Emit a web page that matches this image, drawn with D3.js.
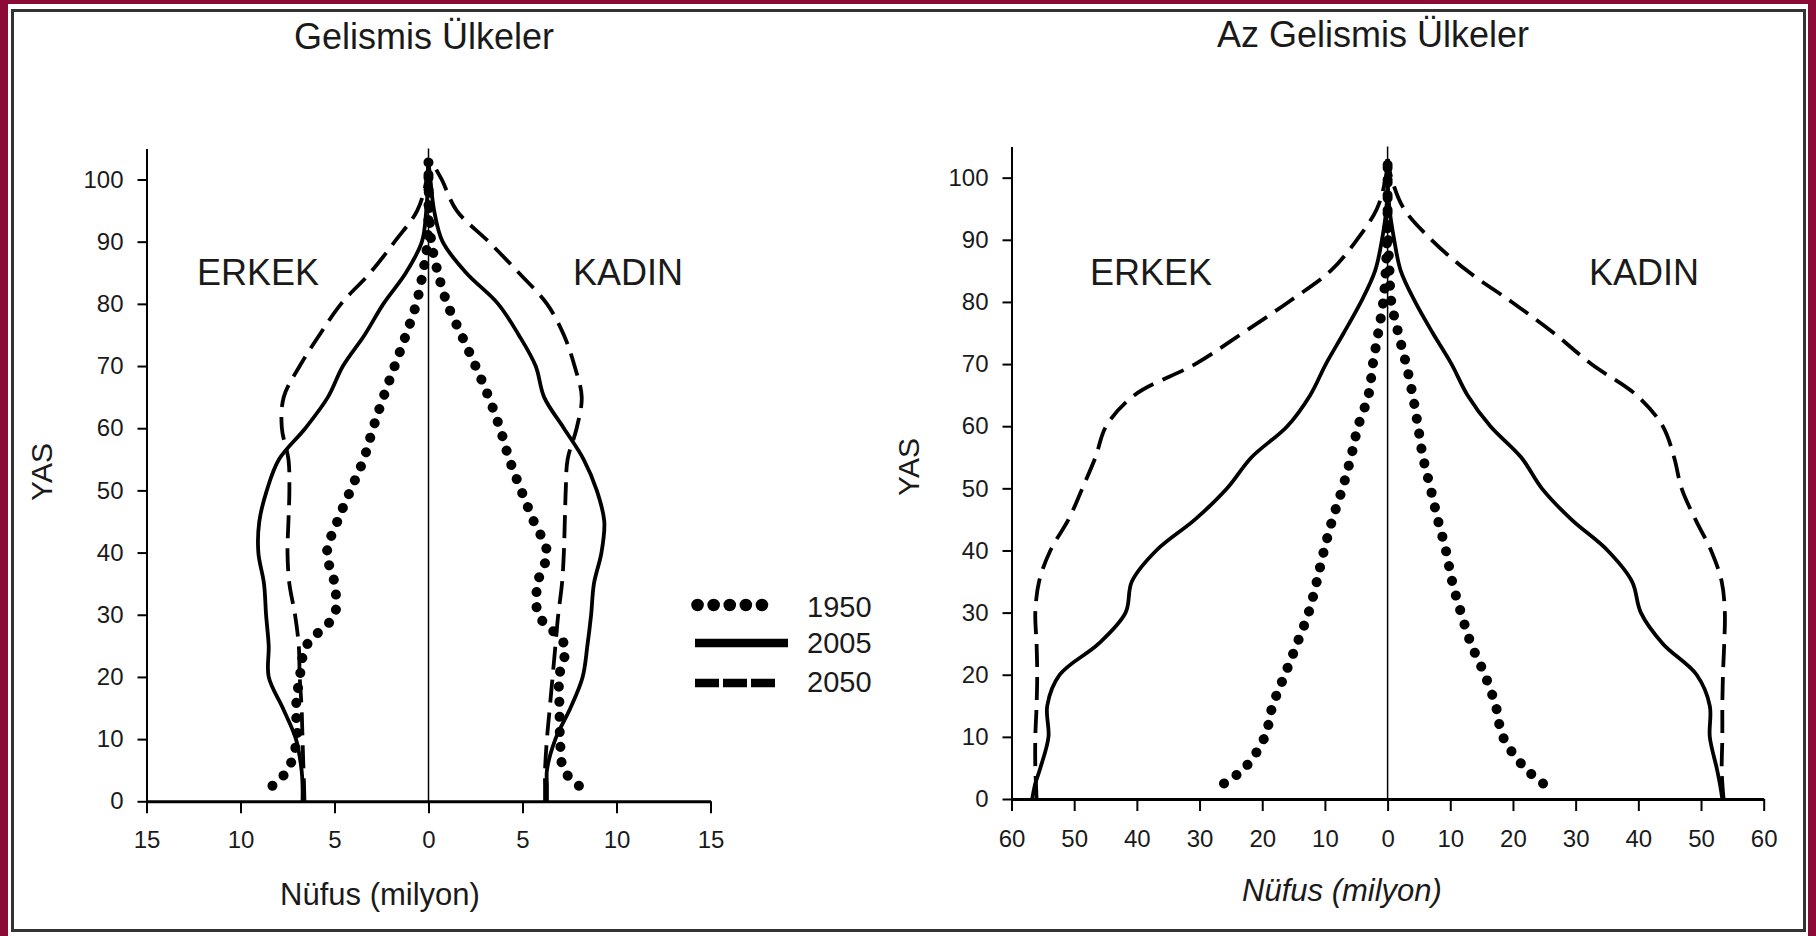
<!DOCTYPE html>
<html lang="tr">
<head>
    <meta charset="utf-8">
    <title>Nüfus piramitleri: Gelismis ve Az Gelismis Ülkeler</title>
    <script type="text/javascript" src="https://cdn.jsdelivr.net/npm/d3@7"></script>
    <style type="text/css">
        body { margin: 0; background: #fff; }
        svg text { font-family: "Liberation Sans", Arial, sans-serif; fill: #1a1a1a; }
    </style>
</head>
<body>
    <script type="text/javascript">

        //Width and height
        var w = 1816;
        var h = 936;

        //Age points (YAS), shared by every series
        var ages = [0, 2.5, 5, 10, 15, 20, 25, 30, 35, 40, 45, 50, 55, 60, 65, 70, 75, 80, 85, 90, 95, 100, 103];

        //Gelismis Ülkeler, population in millions
        var devMale1950 = [null, 8.3, 7.5, 7.0, 7.05, 6.85, 6.5, 5.0, 5.0, 5.4, 4.85, 4.15, 3.45, 2.95, 2.4, 1.8, 1.2, 0.65, 0.3, 0.05, 0, 0, 0];
        var devMale2005 = [6.7, 6.7, 6.75, 7.05, 7.75, 8.5, 8.5, 8.64, 8.75, 9.05, 9.0, 8.6, 7.95, 6.55, 5.35, 4.55, 3.4, 2.4, 1.2, 0.35, 0.12, 0.02, 0];
        var devMale2050 = [6.6, 6.62, 6.65, 6.7, 6.75, 6.85, 6.9, 7.1, 7.4, 7.5, 7.45, 7.4, 7.45, 7.8, 7.7, 6.85, 5.8, 4.65, 3.1, 1.8, 0.6, 0.1, 0];
        var devFemale1950 = [null, 8.0, 7.2, 7.0, 6.97, 6.95, 7.25, 5.85, 5.8, 6.3, 5.6, 4.93, 4.3, 3.8, 3.2, 2.5, 1.75, 1.0, 0.5, 0.15, 0.05, 0, 0];
        var devFemale2005 = [6.3, 6.3, 6.3, 6.75, 7.55, 8.2, 8.45, 8.65, 8.8, 9.2, 9.35, 8.95, 8.25, 7.2, 6.15, 5.7, 4.8, 3.7, 2.0, 0.75, 0.3, 0.1, 0];
        var devFemale2050 = [6.2, 6.2, 6.2, 6.3, 6.45, 6.6, 6.75, 6.9, 7.1, 7.2, 7.25, 7.3, 7.4, 7.88, 8.15, 7.77, 7.2, 6.3, 4.8, 3.2, 1.5, 0.7, 0.15];

        //Az Gelismis Ülkeler, population in millions
        var lessMale1950 = [null, 26.1, 22.8, 19.6, 18.35, 16.4, 14.45, 12.6, 11.3, 10.15, 8.8, 7.2, 5.85, 4.7, 3.05, 2.35, 1.5, 0.7, 0.3, 0.1, 0, 0, 0];
        var lessMale2005 = [56.7, 56.2, 55.4, 54.1, 54.3, 52.3, 46.1, 41.8, 40.8, 36.9, 30.7, 25.6, 21.7, 16.0, 12.35, 9.85, 7.0, 4.25, 2.0, 0.9, 0.2, 0, 0];
        var lessMale2050 = [56.0, 56.1, 56.2, 56.2, 56.0, 55.9, 56.0, 56.2, 55.6, 53.8, 50.9, 48.7, 46.6, 44.9, 40.4, 30.7, 23.1, 15.8, 9.1, 4.9, 1.7, 0.3, 0];
        var lessFemale1950 = [null, 24.8, 21.9, 18.4, 17.25, 15.5, 13.3, 11.7, 10.3, 9.3, 8.0, 6.85, 5.65, 4.85, 4.0, 2.95, 1.7, 0.6, 0.3, 0.1, 0, 0, 0];
        var lessFemale2005 = [53.4, 53.0, 52.5, 51.4, 51.4, 49.3, 43.9, 40.4, 39.0, 35.1, 29.3, 24.6, 21.3, 16.4, 12.75, 10.2, 7.2, 4.4, 2.1, 1.05, 0.3, 0, 0];
        var lessFemale2050 = [53.6, 53.4, 53.3, 53.4, 53.4, 53.5, 53.7, 53.8, 53.3, 51.6, 49.1, 46.9, 45.7, 43.9, 39.7, 32.5, 26.5, 19.8, 12.7, 7.0, 2.6, 0.6, 0];

        //Legend years and tick values
        var years = ["1950", "2005", "2050"];
        var yTicks = [0, 10, 20, 30, 40, 50, 60, 70, 80, 90, 100];
        var devXTicks = [-15, -10, -5, 0, 5, 10, 15];
        var lessXTicks = [-60, -50, -40, -30, -20, -10, 0, 10, 20, 30, 40, 50, 60];

        //Line style per year
        var styles = {
            "1950": { width: 10, dash: "0.1 15", cap: "round" },
            "2005": { width: 3.8, dash: null, cap: "butt" },
            "2050": { width: 3.8, dash: "23 10", cap: "butt" }
        };

        //Create SVG element
        var svg = d3.select("body")
            .append("svg")
            .attr("width", w)
            .attr("height", h);

        //Frame
        svg.append("rect").attr("width", w).attr("height", h).attr("fill", "#8c0a36");
        svg.append("rect").attr("x", 8).attr("y", 4).attr("width", 1800).attr("height", 932).attr("fill", "#fff");
        svg.append("rect")
            .attr("x", 12.5).attr("y", 10.5)
            .attr("width", 1792).attr("height", 920)
            .attr("fill", "none")
            .attr("stroke", "#333")
            .attr("stroke-width", 3);

        function drawPanel(p) {
            var x = d3.scaleLinear().domain(p.xDomain).range(p.xRange);
            var y = d3.scaleLinear().domain([0, 105]).range(p.yRange);
            var g = svg.append("g");

            //X axis, absolute values on both sides
            var xa = g.append("g")
                .attr("transform", "translate(0," + y(0) + ")")
                .call(d3.axisBottom(x)
                    .tickValues(p.xTicks)
                    .tickFormat(function (d) { return Math.abs(d); })
                    .tickSize(12)
                    .tickSizeOuter(0)
                    .tickPadding(p.xPad));
            xa.select(".domain").attr("stroke-width", 3);

            //Y axis
            var ya = g.append("g")
                .attr("transform", "translate(" + x(p.xDomain[0]) + ",0)")
                .call(d3.axisLeft(y)
                    .tickValues(yTicks)
                    .tickSize(9)
                    .tickSizeOuter(0)
                    .tickPadding(14));
            ya.select(".domain").attr("stroke-width", 2);

            g.selectAll(".tick line").attr("stroke", "#000").attr("stroke-width", 2);
            g.selectAll(".tick text")
                .style("font-size", "24px")
                .style("font-family", "'Liberation Sans', Arial, sans-serif")
                .attr("fill", "#222");

            //Centre line
            g.append("line")
                .attr("x1", x(0)).attr("x2", x(0))
                .attr("y1", y(105)).attr("y2", y(0))
                .attr("stroke", "#000")
                .attr("stroke-width", 1.5);

            var line = d3.line()
                .defined(function (d) { return d[0] != null; })
                .x(function (d) { return x(d[0]); })
                .y(function (d) { return y(d[1]); })
                .curve(d3.curveCatmullRom);

            p.series.forEach(function (s) {
                var pts = ages.map(function (a, i) {
                    var v = s.values[i];
                    return [v == null ? null : s.sign * v, a];
                });
                var st = styles[s.year];
                g.append("path")
                    .attr("d", line(pts))
                    .attr("fill", "none")
                    .attr("stroke", "#000")
                    .attr("stroke-width", st.width)
                    .attr("stroke-linecap", st.cap)
                    .attr("stroke-linejoin", "round")
                    .attr("stroke-dasharray", st.dash);
            });

            //Titles and labels
            g.append("text")
                .attr("x", p.titleX).attr("y", p.titleY)
                .attr("text-anchor", "middle")
                .style("font-size", "36px")
                .text(p.title);

            g.append("text").attr("x", p.erkekX).attr("y", 285).style("font-size", "36px").text("ERKEK");
            g.append("text").attr("x", p.kadinX).attr("y", 285).style("font-size", "36px").text("KADIN");

            g.append("text")
                .attr("transform", "translate(" + p.yasX + "," + p.yasY + ") rotate(-90)")
                .attr("text-anchor", "middle")
                .style("font-size", "30px")
                .text("YAS");

            g.append("text")
                .attr("x", p.nufusX).attr("y", p.nufusY)
                .attr("text-anchor", "middle")
                .style("font-size", "31px")
                .style("font-style", p.italic ? "italic" : "normal")
                .text("Nüfus (milyon)");
        }

        drawPanel({
            title: "Gelismis Ülkeler", titleX: 424, titleY: 49,
            xDomain: [-15, 15], xRange: [146.5, 710.5], yRange: [801.3, 148.4],
            xTicks: devXTicks, xPad: 18,
            erkekX: 197, kadinX: 573, yasX: 52, yasY: 472,
            nufusX: 380, nufusY: 905, italic: false,
            series: [
                { year: "2050", sign: -1, values: devMale2050 },
                { year: "2050", sign: 1, values: devFemale2050 },
                { year: "2005", sign: -1, values: devMale2005 },
                { year: "2005", sign: 1, values: devFemale2005 },
                { year: "1950", sign: -1, values: devMale1950 },
                { year: "1950", sign: 1, values: devFemale1950 }
            ]
        });

        drawPanel({
            title: "Az Gelismis Ülkeler", titleX: 1373, titleY: 47,
            xDomain: [-60, 60], xRange: [1011.5, 1763.7], yRange: [799, 146.6],
            xTicks: lessXTicks, xPad: 19,
            erkekX: 1090, kadinX: 1589, yasX: 919, yasY: 467,
            nufusX: 1342, nufusY: 901, italic: true,
            series: [
                { year: "2050", sign: -1, values: lessMale2050 },
                { year: "2050", sign: 1, values: lessFemale2050 },
                { year: "2005", sign: -1, values: lessMale2005 },
                { year: "2005", sign: 1, values: lessFemale2005 },
                { year: "1950", sign: -1, values: lessMale1950 },
                { year: "1950", sign: 1, values: lessFemale1950 }
            ]
        });

        //Legend
        var legendRows = [
            { x1: 697.5, x2: 777.5, y: 605, width: 12.5, dash: "0.1 16", cap: "round", ty: 616.5 },
            { x1: 695, x2: 788, y: 643, width: 8.5, dash: null, cap: "butt", ty: 653 },
            { x1: 695, x2: 775, y: 683, width: 8.5, dash: "24 4", cap: "butt", ty: 691.5 }
        ];
        var legend = svg.append("g");
        legend.selectAll("path")
            .data(years)
            .enter()
            .append("path")
            .attr("d", function (d, i) { var r = legendRows[i]; return "M" + r.x1 + "," + r.y + "H" + r.x2; })
            .attr("stroke", "#000")
            .attr("stroke-width", function (d, i) { return legendRows[i].width; })
            .attr("stroke-linecap", function (d, i) { return legendRows[i].cap; })
            .attr("stroke-dasharray", function (d, i) { return legendRows[i].dash; });
        legend.selectAll("text")
            .data(years)
            .enter()
            .append("text")
            .attr("x", 807)
            .attr("y", function (d, i) { return legendRows[i].ty; })
            .style("font-size", "29px")
            .text(function (d) { return d; });
    </script>
</body>
</html>
